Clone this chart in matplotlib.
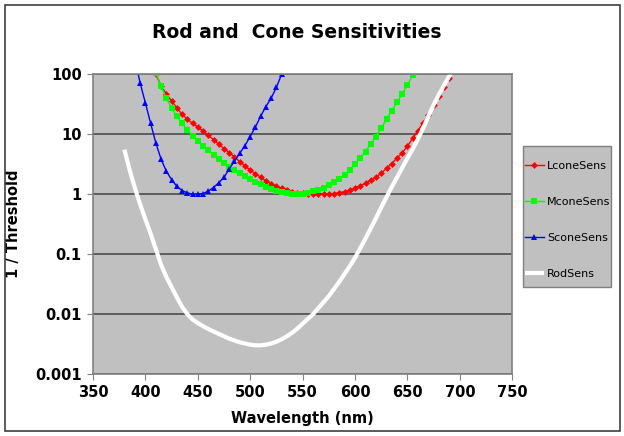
import matplotlib
matplotlib.use("Agg")
import matplotlib.pyplot as plt
import numpy as np
from matplotlib.patches import Rectangle

# wavelengths in nm, 5 nm steps; values as log10(1/threshold)
lcone_wl = list(range(410, 700, 5))
lcone_log10 = [2.0, 1.80, 1.67, 1.55, 1.44, 1.33, 1.25, 1.18, 1.12, 1.05,
               0.98, 0.91, 0.83, 0.76, 0.69, 0.62, 0.54, 0.47, 0.40, 0.34,
               0.28, 0.22, 0.17, 0.13, 0.10, 0.07, 0.04, 0.025, 0.012, 0.004,
               0.0, 0.0, 0.0, 0.005, 0.01, 0.025, 0.04, 0.07, 0.10, 0.14,
               0.18, 0.23, 0.28, 0.35, 0.43, 0.51, 0.60, 0.69, 0.80, 0.93,
               1.06, 1.19, 1.32, 1.48, 1.63, 1.79, 1.94, 2.10]

mcone_wl = list(range(410, 665, 5))
mcone_log10 = [2.02, 1.80, 1.60, 1.43, 1.30, 1.18, 1.07, 0.97, 0.88, 0.80,
               0.73, 0.66, 0.59, 0.52, 0.46, 0.40, 0.345, 0.295, 0.25, 0.205,
               0.165, 0.125, 0.09, 0.06, 0.035, 0.018, 0.006, 0.0, 0.005, 0.02,
               0.045, 0.075, 0.11, 0.155, 0.21, 0.26, 0.32, 0.41, 0.50, 0.60,
               0.71, 0.84, 0.96, 1.10, 1.25, 1.39, 1.53, 1.67, 1.82, 1.98,
               2.15]

scone_wl = list(range(390, 535, 5))
scone_log10 = [2.25, 1.85, 1.52, 1.18, 0.85, 0.58, 0.38, 0.24, 0.13, 0.06,
               0.02, 0.0, 0.0, 0.01, 0.05, 0.11, 0.19, 0.28, 0.42, 0.55,
               0.68, 0.81, 0.96, 1.12, 1.30, 1.46, 1.60, 1.78, 2.0]

rod_wl = list(range(380, 700, 5))
rod_log10 = [0.74, 0.40, 0.10, -0.17, -0.42, -0.66, -0.92, -1.18, -1.38, -1.55,
             -1.72, -1.88, -2.0, -2.09, -2.15, -2.20, -2.25, -2.29, -2.33, -2.37,
             -2.41, -2.44, -2.47, -2.49, -2.51, -2.52, -2.52, -2.51, -2.49, -2.46,
             -2.42, -2.37, -2.31, -2.24, -2.16, -2.08, -2.0, -1.90, -1.80, -1.70,
             -1.58, -1.46, -1.33, -1.20, -1.06, -0.90, -0.74, -0.57, -0.40, -0.22,
             -0.05, 0.12, 0.28, 0.44, 0.60, 0.75, 0.92, 1.10, 1.30, 1.49,
             1.66, 1.82, 1.97, 2.12]

x_ticks = [350, 400, 450, 500, 550, 600, 650, 700, 750]
y_ticks = [0.001, 0.01, 0.1, 1, 10, 100]
y_labels = ["0.001", "0.01", "0.1", "1", "10", "100"]

W, H = 624, 436
fig = plt.figure(figsize=(W / 100, H / 100), dpi=100)
fig.patches.append(Rectangle((0.008, 0.011), 0.986, 0.978, transform=fig.transFigure,
                             fill=False, edgecolor="#404040", linewidth=1.2))
# legend box drawn by hand so its size can match; kept below the axes
fig.patches.append(Rectangle((523 / W, 1 - 287 / H), 88 / W, 141 / H,
                             transform=fig.transFigure, facecolor="#C0C0C0",
                             edgecolor="#808080", linewidth=1.0, zorder=-1))

ax = fig.add_axes([0.149, 0.142, 0.672, 0.688])
ax.set_facecolor("#C0C0C0")
ax.set_yscale("log")

series = [
    (lcone_wl, lcone_log10, "LconeSens", "#FF0000", "D", 3.5, 1.0),
    (mcone_wl, mcone_log10, "MconeSens", "#00FF00", "s", 4.5, 1.0),
    (scone_wl, scone_log10, "SconeSens", "#0000FF", "^", 4.5, 1.0),
]
for wl, vals, name, col, mk, ms, lw in series:
    ax.plot(wl, 10 ** np.array(vals), color=col, marker=mk, markersize=ms,
            linewidth=lw, label=name, markeredgewidth=0)
ax.plot(rod_wl, 10 ** np.array(rod_log10), color="white", linewidth=3,
        label="RodSens", solid_capstyle="butt")

ax.set_xlim(350, 750)
ax.set_ylim(0.001, 100)
ax.set_xticks(x_ticks)
ax.set_xticklabels([str(v) for v in x_ticks])
ax.set_yticks(y_ticks)
ax.set_yticklabels(y_labels)
ax.minorticks_off()
ax.tick_params(axis="both", direction="out", length=4, color="#808080",
               labelsize=10.5, pad=4)
for lab in ax.get_xticklabels() + ax.get_yticklabels():
    lab.set_fontweight("bold")
ax.grid(True, axis="y", color="#555555", linewidth=1.3)
ax.set_axisbelow(True)
for sp in ax.spines.values():
    sp.set_color("#808080")
    sp.set_linewidth(1.2)

ax.set_xlabel("Wavelength (nm)", fontsize=10.5, fontweight="bold", labelpad=8)
ax.set_ylabel("1 / Threshold", fontsize=10.5, fontweight="bold", labelpad=10)
fig.text(0.476, 0.925, "Rod and  Cone Sensitivities", ha="center", va="center",
         fontsize=13.5, fontweight="bold")

leg = ax.legend(loc="upper left", bbox_to_anchor=(525 / W, 1 - 161 / H),
                bbox_transform=fig.transFigure, frameon=False,
                fontsize=8, labelspacing=2.35, handlelength=1.7,
                borderpad=0, borderaxespad=0, handletextpad=0.3)

fig.savefig("out.png", dpi=100)
